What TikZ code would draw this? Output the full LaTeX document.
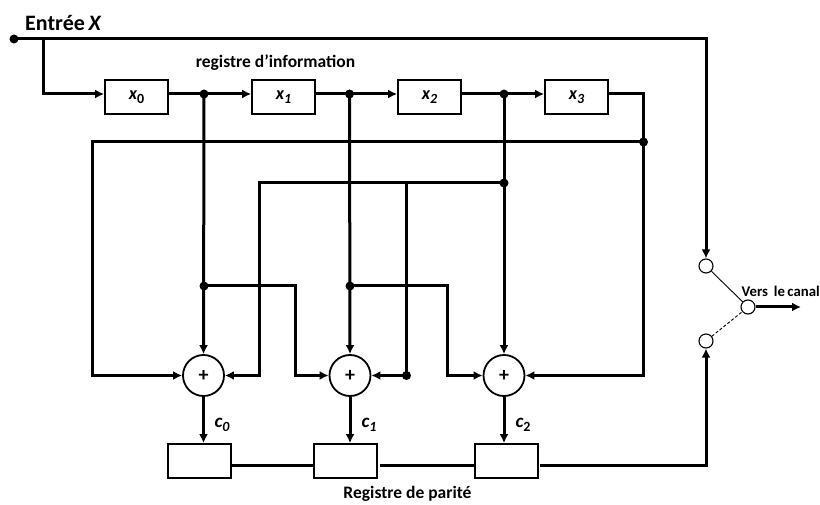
\documentclass[tikz,border=0pt]{standalone}
\usepackage{fontspec}
\setmainfont{Carlito}
\usetikzlibrary{arrows.meta}
\newcommand{\subb}[1]{\raisebox{-3.5pt}{\fontsize{14}{16}\selectfont #1}}
\newcommand{\regtxt}[1]{\raisebox{-3pt}{#1}}
\tikzset{
  wire/.style={line width=3pt,line join=miter},
  heavy/.style={line width=3pt,line join=miter},
  tipped/.style={-{Latex[length=9pt,width=9pt]}},
  arr/.style={wire,tipped},
  reg/.style={draw=black,line width=1.8pt,fill=white,minimum width=63pt,minimum height=34pt,inner sep=0pt,font=\bfseries\itshape\fontsize{18}{20}\selectfont},
  sum/.style={draw=black,circle,line width=1.8pt,fill=white,minimum size=41pt,inner sep=0pt,font=\bfseries\fontsize{20}{22}\selectfont},
  port/.style={draw=black,circle,line width=1.1pt,fill=white,minimum size=14pt,inner sep=0pt},
  jdot/.style={circle,fill=black,minimum size=9pt,inner sep=0pt},
  lab/.style={inner sep=0pt,font=\bfseries\fontsize{17.5}{20}\selectfont},
  clab/.style={inner sep=0pt,font=\bfseries\itshape\fontsize{19}{21}\selectfont},
}
\begin{document}
\begin{tikzpicture}[x=1pt,y=-1pt]
\useasboundingbox (0,0) rectangle (820,505);
% registers
\node[reg] (x0) at (136.5,97) {\regtxt{x\subb{\upshape 0}}};
\node[reg] (x1) at (283.5,97) {\regtxt{x\subb{1}}};
\node[reg] (x2) at (429.5,97) {\regtxt{x\subb{2}}};
\node[reg] (x3) at (576.5,97) {\regtxt{x\subb{3}}};
\node[reg] (p0) at (199.5,461) {};
\node[reg] (p1) at (345.5,461) {};
\node[reg] (p2) at (506.5,461) {};
% adders
\node[sum] (s0) at (203.5,375.5) {+};
\node[sum] (s1) at (350,375.5) {+};
\node[sum] (s2) at (504,375.5) {+};
% switch
\node[port] (up) at (706,266) {};
\node[port] (low) at (706,341) {};
\node[port] (out) at (748,307) {};
% junctions
\node[jdot] (in) at (14,39) {};
\node[jdot] (j0) at (204,94) {};
\node[jdot] (j1) at (349.5,94) {};
\node[jdot] (j2) at (504,94) {};
\node[jdot] (jf) at (643.5,142) {};
\node[jdot] (jm) at (504,183) {};
\node[jdot] (ja) at (204,286) {};
\node[jdot] (jb) at (350,286) {};
\node[jdot] (jc) at (406.5,375.5) {};
% bends and free ends
\coordinate (b0) at (43,39);
\coordinate (b1) at (43,94);
\coordinate (c1) at (706,39);
\coordinate (c2) at (643.5,94);
\coordinate (c3) at (643.5,375.5);
\coordinate (f1) at (92,142);
\coordinate (f2) at (92,375.5);
\coordinate (m1) at (259,183);
\coordinate (m2) at (259,375.5);
\coordinate (m3) at (406.5,183);
\coordinate (a1) at (295,286);
\coordinate (a2) at (295,375.5);
\coordinate (d1) at (447,286);
\coordinate (d2) at (447,375.5);
\coordinate (e1) at (706,465);
\coordinate (end) at (801,307);
% input
\draw[arr] (in.center) -- (c1) -- (up.north);
\draw[arr] (b0) -- (b1) -- (x0.west |- b1);
% information register
\draw[wire] (x0.east |- j0) -- (j0.center);
\draw[arr] (j0.center) -- (x1.west |- j0);
\draw[wire] (x1.east |- j1) -- (j1.center);
\draw[arr] (j1.center) -- (x2.west |- j1);
\draw[wire] (x2.east |- j2) -- (j2.center);
\draw[arr] (j2.center) -- (x3.west |- j2);
% verticals to adders
\draw[arr] (j0.center) -- (s0.north);
\draw[arr] (j1.center) -- (s1.north);
\draw[arr] (j2.center) -- (s2.north);
% feedback
\draw[heavy,tipped] (x3.east |- c2) -- (c2) -- (c3) -- (s2.east);
\draw[arr] (jf.center) -- (f1) -- (f2) -- (s0.west);
\draw[arr] (jm.center) -- (m1) -- (m2) -- (s0.east);
\draw[wire] (m3) -- (jc.center);
\draw[arr] (jc.center) -- (s1.east);
\draw[arr] (ja.center) -- (a1) -- (a2) -- (s1.west);
\draw[arr] (jb.center) -- (d1) -- (d2) -- (s2.west);
% to parity register
\draw[arr] (s0.south) -- (s0.south |- p0.north);
\draw[arr] (s1.south) -- (s1.south |- p1.north);
\draw[arr] (s2.south) -- (s2.south |- p2.north);
\draw[heavy] ([yshift=-4pt]p0.east) -- ([yshift=-4pt]p1.west);
\draw[heavy,shorten <=2pt] ([yshift=-4pt]p1.east) -- ([yshift=-4pt]p2.west);
\draw[heavy,tipped,shorten <=1pt] ([yshift=-4pt]p2.east) -- (e1) -- (low.south);
% switch
\draw[line width=0.9pt] (up) -- (out);
\draw[line width=0.9pt,dash pattern=on 3pt off 2pt] (low) -- (out);
\draw[heavy,tipped] (out.east) -- (end);
% labels
\node[lab,font=\bfseries\fontsize{22}{24}\selectfont,anchor=west] (tin) at (25,23) {Entrée\,\textit{X}};
\node[lab] (treg) at (275.5,63) {registre d’information};
\node[lab] (tpar) at (407.5,494) {Registre de parité};
\node[lab,font=\bfseries\fontsize{14.8}{17}\selectfont,anchor=west] (tcan) at (741.5,291) {Vers\, le\,canal};
\node[clab] (t0) at (222,425) {c\subb{0}};
\node[clab] (t1) at (369,425) {c\subb{1}};
\node[clab] (t2) at (523,425) {c\subb{\upshape 2}};
\end{tikzpicture}
\end{document}
